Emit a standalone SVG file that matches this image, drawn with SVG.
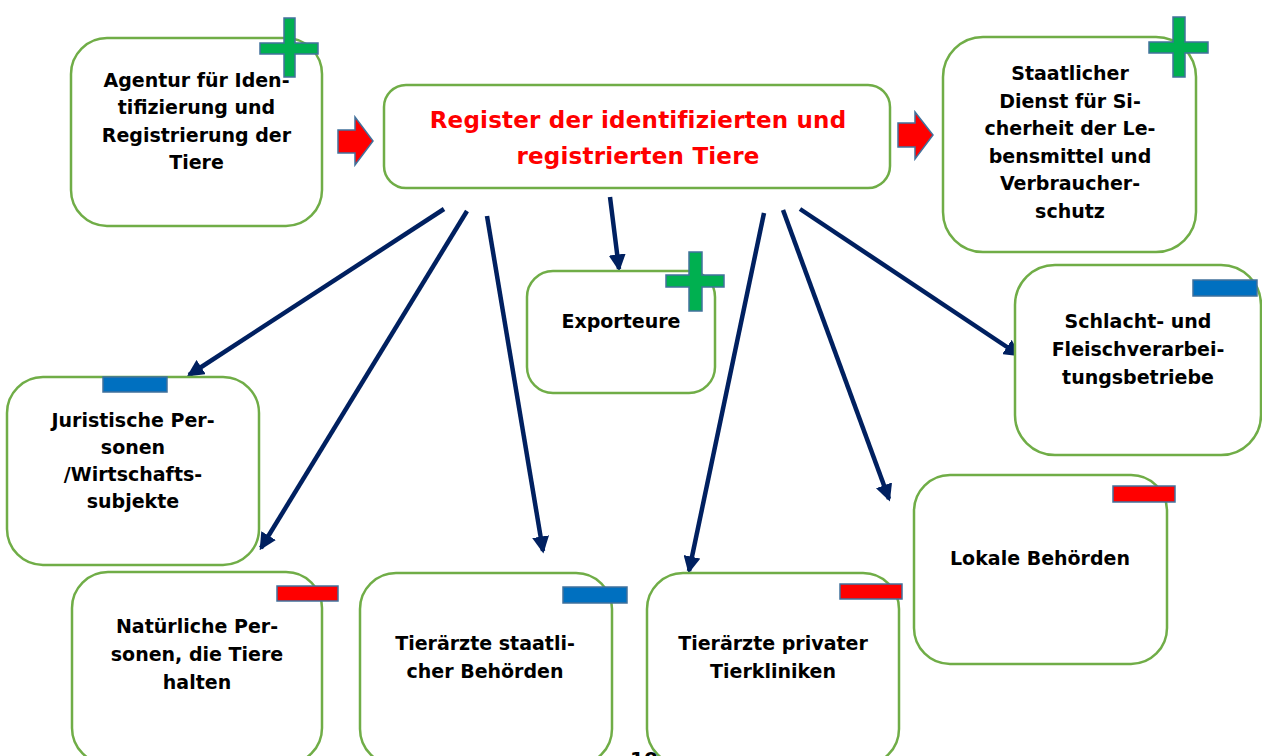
<svg xmlns="http://www.w3.org/2000/svg" width="1262" height="756" viewBox="0 0 1262 756">
<defs>
<style>
.box{fill:#fff;stroke:#70AD47;stroke-width:2.5}
.t{font-family:"DejaVu Sans","Verdana",sans-serif;font-weight:bold;font-size:19px;fill:#000;text-anchor:middle}
.tr{font-family:"DejaVu Sans","Verdana",sans-serif;font-weight:bold;font-size:23px;letter-spacing:0.2px;fill:#FF0000;text-anchor:middle}
.plus{fill:#00B050;stroke:#41719C;stroke-width:1.5}
.minb{fill:#0070C0;stroke:#41719C;stroke-width:1.5}
.minr{fill:#FF0000;stroke:#41719C;stroke-width:1.5}
.blk{fill:#FF0000;stroke:#41719C;stroke-width:1.5}
.con{stroke:#002060;stroke-width:4.5;fill:none}
</style>
<marker id="ah" viewBox="0 0 10 10" refX="8.5" refY="5" markerWidth="3.8" markerHeight="3.8" orient="auto">
<path d="M0,0 L10,5 L0,10 z" fill="#002060"/>
</marker>
</defs>
<rect width="1262" height="756" fill="#fff"/>

<g id="connectors">
<line class="con" x1="444" y1="209" x2="189" y2="375" marker-end="url(#ah)"/>
<line class="con" x1="467" y1="211" x2="261" y2="548" marker-end="url(#ah)"/>
<line class="con" x1="487" y1="216" x2="543" y2="551" marker-end="url(#ah)"/>
<line class="con" x1="610" y1="197" x2="619" y2="269" marker-end="url(#ah)"/>
<line class="con" x1="764" y1="213" x2="689" y2="571" marker-end="url(#ah)"/>
<line class="con" x1="783" y1="210" x2="889" y2="499" marker-end="url(#ah)"/>
<line class="con" x1="800" y1="209" x2="1019" y2="355" marker-end="url(#ah)"/>
</g>

<g id="block-arrows">
<path class="blk" d="M338,130 L355,130 L355,117 L373,141 L355,165 L355,153 L338,153 z"/>
<path class="blk" d="M898,123 L915,123 L915,112 L933,135 L915,159 L915,147 L898,147 z"/>
</g>

<g id="agentur">
<rect class="box" x="71" y="38" width="251" height="188" rx="36"/>
<text class="t" x="196.5" y="87">Agentur für Iden-</text>
<text class="t" x="196.5" y="114">tifizierung und</text>
<text class="t" x="196.5" y="142">Registrierung der</text>
<text class="t" x="196.5" y="169">Tiere</text>
<path class="plus" d="M284,18 H295 V43 H318 V54 H295 V77 H284 V54 H260 V43 H284 z"/>
</g>

<g id="register">
<rect class="box" x="384" y="85" width="506" height="103" rx="22"/>
<text class="tr" x="638" y="128">Register der identifizierten und</text>
<text class="tr" x="638" y="164">registrierten Tiere</text>
</g>

<g id="staatlicher">
<rect class="box" x="943" y="37" width="253" height="215" rx="40"/>
<text class="t" x="1070" y="80">Staatlicher</text>
<text class="t" x="1070" y="107.6">Dienst für Si-</text>
<text class="t" x="1070" y="135.2">cherheit der Le-</text>
<text class="t" x="1070" y="162.8">bensmittel und</text>
<text class="t" x="1070" y="190.4">Verbraucher-</text>
<text class="t" x="1070" y="218">schutz</text>
<path class="plus" d="M1173,17 H1185 V42 H1208 V53 H1185 V77 H1173 V53 H1149 V42 H1173 z"/>
</g>

<g id="exporteure">
<rect class="box" x="527" y="271" width="188" height="122" rx="26"/>
<text class="t" x="621" y="328">Exporteure</text>
<path class="plus" d="M689,252 H702 V275 H724 V287 H702 V311 H689 V287 H666 V275 H689 z"/>
</g>

<g id="schlacht">
<rect class="box" x="1015" y="265" width="246" height="190" rx="40"/>
<text class="t" x="1138" y="328">Schlacht- und</text>
<text class="t" x="1138" y="356">Fleischverarbei-</text>
<text class="t" x="1138" y="384">tungsbetriebe</text>
<rect class="minb" x="1193" y="280" width="64" height="16"/>
</g>

<g id="juristische">
<rect class="box" x="7" y="377" width="252" height="188" rx="36"/>
<text class="t" x="133" y="427">Juristische Per-</text>
<text class="t" x="133" y="454">sonen</text>
<text class="t" x="133" y="481">/Wirtschafts-</text>
<text class="t" x="133" y="508">subjekte</text>
<rect class="minb" x="103" y="377" width="64" height="15"/>
</g>

<g id="natuerliche">
<rect class="box" x="72" y="572" width="250" height="192" rx="36"/>
<text class="t" x="197" y="633">Natürliche Per-</text>
<text class="t" x="197" y="661">sonen, die Tiere</text>
<text class="t" x="197" y="689">halten</text>
<rect class="minr" x="277" y="586" width="61" height="15"/>
</g>

<g id="tieraerzte-staatlich">
<rect class="box" x="360" y="573" width="252" height="192" rx="36"/>
<text class="t" x="485" y="650">Tierärzte staatli-</text>
<text class="t" x="485" y="678">cher Behörden</text>
<rect class="minb" x="563" y="587" width="64" height="16"/>
</g>

<g id="tieraerzte-privat">
<rect class="box" x="647" y="573" width="252" height="192" rx="36"/>
<text class="t" x="773" y="650">Tierärzte privater</text>
<text class="t" x="773" y="678">Tierkliniken</text>
<rect class="minr" x="840" y="584" width="62" height="15"/>
</g>

<g id="lokale">
<rect class="box" x="914" y="475" width="253" height="189" rx="36"/>
<text class="t" x="1040" y="565">Lokale Behörden</text>
<rect class="minr" x="1113" y="486" width="62" height="16"/>
</g>

<text class="t" x="644" y="766" style="font-size:20px">10</text>
</svg>
